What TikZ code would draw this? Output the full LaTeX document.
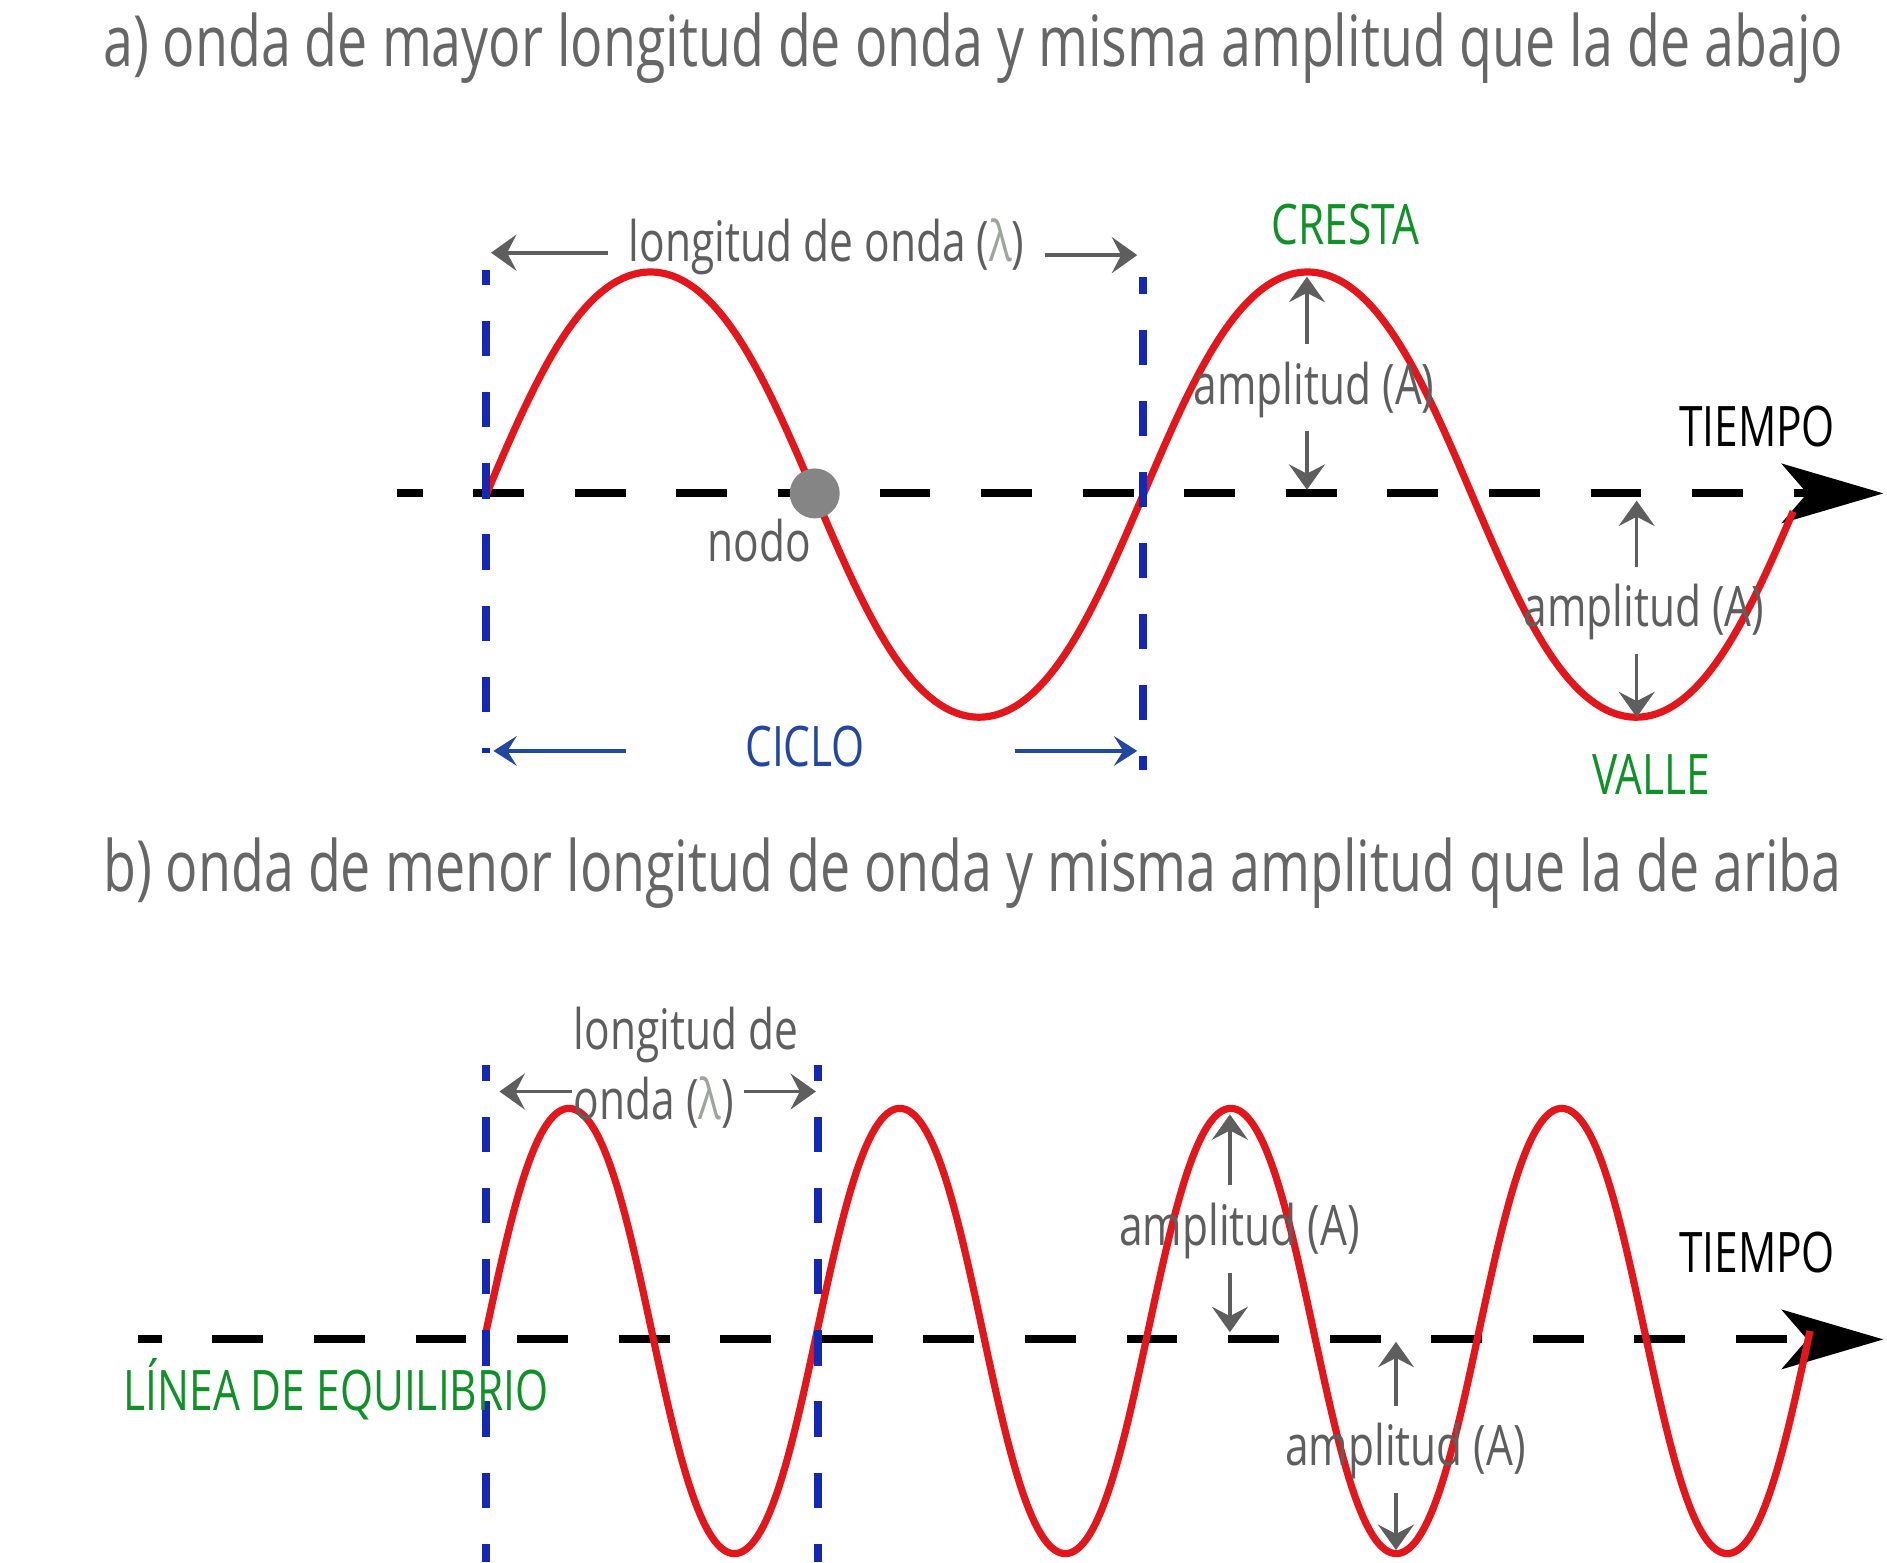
\documentclass[tikz,border=0pt]{standalone}
\usepackage{fontspec}
\setmainfont[FakeStretch=0.76]{Open Sans}
\usetikzlibrary{arrows.meta}

\definecolor{txtgray}{HTML}{5E5E5E}
\definecolor{titlegray}{HTML}{666666}
\definecolor{lamgray}{HTML}{9FA49E}
\definecolor{dotgray}{HTML}{858585}
\definecolor{wavered}{HTML}{E3171B}
\definecolor{cycblue}{HTML}{1428B4}
\definecolor{cicloblue}{HTML}{2346A0}
\definecolor{labgreen}{HTML}{0F9128}

\tikzset{
  lbl/.style={inner sep=0pt, text=txtgray, font=\fontsize{13.2}{16.4}\selectfont},
  titlelbl/.style={lbl, text=titlegray, font=\fontsize{16.7}{19}\selectfont},
  greenlbl/.style={lbl, text=labgreen},
  timelbl/.style={lbl, text=black},
  axisline/.style={line width=1.9pt, black, dash pattern=on 12pt off 12pt,
    -{Stealth[length=24pt, width=14pt, inset=6pt]}},
  wave/.style={line width=1.7pt, wavered, line join=round},
  cycline/.style={line width=1.9pt, cycblue, dash pattern=on 8.3pt off 8.5pt},
  garrow/.style={line width=0.85pt, txtgray, -{Stealth[length=6pt, width=8.5pt, inset=2.2pt]}},
  barrow/.style={line width=0.8pt, cicloblue, -{Stealth[length=5.5pt, width=7pt, inset=2.2pt]}}
}

\begin{document}
\begin{tikzpicture}[x=0.01cm, y=-0.01cm]
    \useasboundingbox (0,0) rectangle (1568,1298);

    % a) long wave
    \node[titlelbl, anchor=base west] (titleA) at (85,55) {a) onda de mayor longitud de onda y misma amplitud que la de abajo};

    \coordinate (axAs) at (330,410);
    \coordinate (axAe) at (1565,410);
    \draw[axisline, dash phase=6pt] (axAs) -- (axAe);

    \draw[wave] plot[domain=404:1490, samples=240]
      (\x, {411-185*sin(0.65934*(\x-404))*(1.1-0.1*sin(0.65934*(\x-404))^2)});

    \coordinate (cycAtop) at (404,224);
    \coordinate (cycAbot) at (404,626);
    \coordinate (cycBtop) at (950,230);
    \coordinate (cycBbot) at (950,640);
    \draw[cycline, dash phase=4.6pt] (cycAtop) -- (cycAbot);
    \draw[cycline, dash phase=4.3pt] (cycBtop) -- (cycBbot);

    \node[circle, fill=dotgray, minimum size=0.415cm, inner sep=0pt] (nodeDot) at (677,410) {};
    \node[lbl, anchor=base] (nodoA) at (631,467) {nodo};

    \node[lbl, anchor=base] (lamA) at (687,217) {longitud de onda (\textcolor{lamgray}{λ})};
    \coordinate (lamAl) at (505,210);
    \coordinate (lamAlt) at (408,210);
    \coordinate (lamAr) at (868,212);
    \coordinate (lamArt) at (945,212);
    \draw[garrow] (lamAl) -- (lamAlt);
    \draw[garrow] (lamAr) -- (lamArt);

    \node[lbl, anchor=base, text=cicloblue] (cicloA) at (669,637) {CICLO};
    \coordinate (cicAl) at (520,624);
    \coordinate (cicAlt) at (410,624);
    \coordinate (cicAr) at (843,624);
    \coordinate (cicArt) at (945,624);
    \draw[barrow] (cicAl) -- (cicAlt);
    \draw[barrow] (cicAr) -- (cicArt);

    \node[greenlbl, anchor=base] (crestaA) at (1118,203) {CRESTA};
    \node[greenlbl, anchor=base] (valleA) at (1372,660) {VALLE};
    \node[timelbl, anchor=base] (tiempoA) at (1460,371) {TIEMPO};

    % amplitudes, top wave
    \node[lbl, anchor=base] (ampA1) at (1092,336) {amplitud (A)};
    \coordinate (crestA1) at (1086,230);
    \coordinate (zeroA1) at (1086,407);
    \draw[garrow] ([yshift=4pt]ampA1.north -| crestA1) -- (crestA1);
    \draw[garrow] ([yshift=-3pt]ampA1.south -| zeroA1) -- (zeroA1);

    \node[lbl, anchor=base] (ampA2) at (1366,521) {amplitud (A)};
    \coordinate (zeroA2) at (1360,416);
    \coordinate (troughA2) at (1360,596);
    \draw[garrow] ([yshift=4pt]ampA2.north -| zeroA2) -- (zeroA2);
    \draw[garrow] ([yshift=-3pt]ampA2.south -| troughA2) -- (troughA2);

    % b) short wave
    \node[titlelbl, anchor=base west] (titleB) at (85,741) {b) onda de menor longitud de onda y misma amplitud que la de ariba};

    \coordinate (axBs) at (115,1113);
    \coordinate (axBe) at (1565,1113);
    \draw[axisline, dash phase=6.5pt] (axBs) -- (axBe);

    \draw[wave] plot[domain=404:1504, samples=440]
      (\x, {1106-185*sin(1.30909*(\x-404))*(1.1-0.1*sin(1.30909*(\x-404))^2)});

    \coordinate (cycCtop) at (404,885);
    \coordinate (cycCbot) at (404,1298);
    \coordinate (cycDtop) at (680,885);
    \coordinate (cycDbot) at (680,1298);
    \draw[cycline, dash phase=4.5pt] (cycCtop) -- (cycCbot);
    \draw[cycline, dash phase=4.5pt] (cycDtop) -- (cycDbot);

    \node[lbl, anchor=base west, align=left] (lamB) at (476,930) {longitud de\\onda (\textcolor{lamgray}{λ})};
    \coordinate (lamBl) at (475,907);
    \coordinate (lamBlt) at (415,907);
    \coordinate (lamBr) at (618,907);
    \coordinate (lamBrt) at (678,907);
    \draw[garrow] (lamBl) -- (lamBlt);
    \draw[garrow] (lamBr) -- (lamBrt);

    \node[greenlbl, anchor=base west] (equil) at (102,1172) {LÍNEA DE EQUILIBRIO};
    \node[timelbl, anchor=base] (tiempoB) at (1460,1057) {TIEMPO};

    % amplitudes, bottom wave
    \node[lbl, anchor=base] (ampB1) at (1030,1035) {amplitud (A)};
    \coordinate (crestB1) at (1022,926);
    \coordinate (zeroB1) at (1022,1107);
    \draw[garrow] ([yshift=4pt]ampB1.north -| crestB1) -- (crestB1);
    \draw[garrow] ([yshift=-3pt]ampB1.south -| zeroB1) -- (zeroB1);

    \node[lbl, anchor=base] (ampB2) at (1168,1218) {amplitud (A)};
    \coordinate (zeroB2) at (1160,1115);
    \coordinate (troughB2) at (1160,1288);
    \draw[garrow] ([yshift=4pt]ampB2.north -| zeroB2) -- (zeroB2);
    \draw[garrow] ([yshift=-3pt]ampB2.south -| troughB2) -- (troughB2);
\end{tikzpicture}
\end{document}
